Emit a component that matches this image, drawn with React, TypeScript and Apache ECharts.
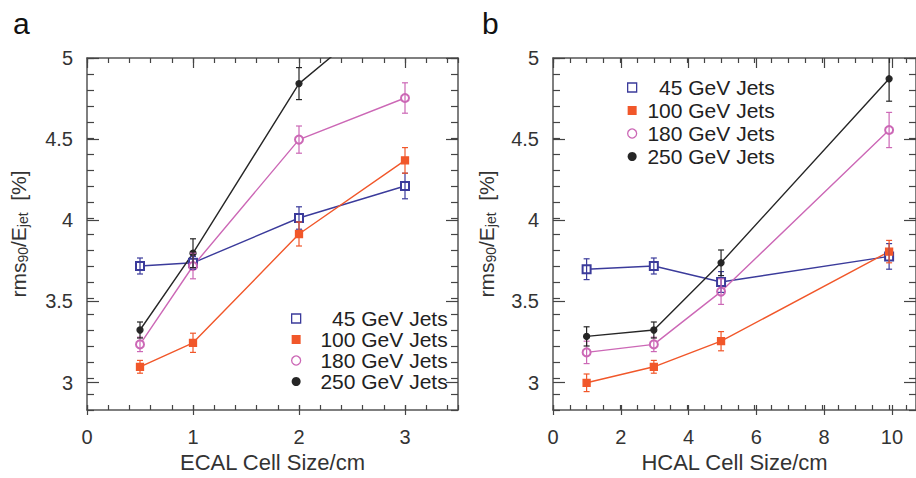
import React, { useEffect, useRef } from 'react';
import * as echarts from 'echarts';

// ---------- data ----------
const seriesNames = ['45 GeV Jets', '100 GeV Jets', '180 GeV Jets', '250 GeV Jets'];

const ecalSizes = [0.5, 1, 2, 3];
const ecal45 = [3.70, 3.72, 4.00, 4.20];
const ecal45Err = [0.05, 0.04, 0.07, 0.08];
const ecal100 = [3.07, 3.22, 3.90, 4.36];
const ecal100Err = [0.04, 0.06, 0.075, 0.08];
const ecal180 = [3.21, 3.70, 4.49, 4.75];
const ecal180Err = [0.045, 0.08, 0.085, 0.095];
const ecal250 = [3.30, 3.78, 4.84, 5.39];
const ecal250Err = [0.05, 0.09, 0.10, 0.12];

const hcalSizes = [1, 3, 5, 10];
const hcal45 = [3.68, 3.70, 3.60, 3.76];
const hcal45Err = [0.065, 0.05, 0.065, 0.08];
const hcal100 = [2.97, 3.07, 3.23, 3.79];
const hcal100Err = [0.055, 0.04, 0.06, 0.07];
const hcal180 = [3.16, 3.21, 3.54, 4.55];
const hcal180Err = [0.07, 0.045, 0.08, 0.11];
const hcal250 = [3.26, 3.30, 3.72, 4.87];
const hcal250Err = [0.06, 0.05, 0.08, 0.14];

const panelLabels = ['a', 'b'];
const xAxisNames = ['ECAL Cell Size/cm', 'HCAL Cell Size/cm'];
const yAxisName = '{a|rms}{s|90}{a|/E}{s|jet}{a|  [%]}';

// ---------- style ----------
const FONT = '"Liberation Sans", Arial, Helvetica, sans-serif';
const colors = ['#3b3b9b', '#f1572a', '#cc68b6', '#262626'];
const symbols = ['emptyRect', 'rect', 'emptyCircle', 'circle'];
const symbolSizes = [8, 7, 8, 6];
const AXIS_COLOR = '#555';
const LABEL_COLOR = '#333';

const Y_MIN = 2.8, Y_MAX = 5, Y_MINOR = 0.1, Y_MAJOR = 0.5, Y_MAJOR_MIN = 3;

const panels = [
  {
    left: 87, top: 58, right: 458, bottom: 415,
    xMin: 0, xMax: 3.5, xMinor: 0.2, xMajor: 1, xMajorMax: 3,
    sizes: ecalSizes,
    values: [ecal45, ecal100, ecal180, ecal250],
    errors: [ecal45Err, ecal100Err, ecal180Err, ecal250Err],
    legend: { left: 291, top: 308, itemGap: 0, textWidth: 142 },
    nameGap: 57,
  },
  {
    left: 553, top: 58, right: 919, bottom: 415,
    xMin: 0, xMax: 10.8, xMinor: 0.5, xMajor: 2, xMajorMax: 10,
    sizes: hcalSizes,
    values: [hcal45, hcal100, hcal180, hcal250],
    errors: [hcal45Err, hcal100Err, hcal180Err, hcal250Err],
    legend: { left: 627, top: 77, itemGap: 2, textWidth: 133 },
    nameGap: 55,
  },
];

function buildOption() {
  const grid: any[] = [];
  const xAxis: any[] = [];
  const yAxis: any[] = [];
  const series: any[] = [];
  const legend: any[] = [];
  const graphic: any[] = [];

  const axisLine = { show: true, onZero: false, lineStyle: { color: AXIS_COLOR, width: 1.5 } };
  const tickStyle = { color: '#444', width: 1.2 };
  const labelStyle = { color: LABEL_COLOR, fontSize: 20, fontFamily: FONT };

  panels.forEach((p, pi) => {
    const w = p.right - p.left;
    const h = p.bottom - p.top;
    const gMain = grid.length;
    grid.push({ left: p.left, top: p.top, width: w, height: h, containLabel: false });
    const gX = grid.length;
    grid.push({ left: p.left, top: p.top, width: w * (p.xMajorMax - p.xMin) / (p.xMax - p.xMin), height: h });
    const gY = grid.length;
    grid.push({ left: p.left, top: p.top, width: w, height: h * (Y_MAX - Y_MAJOR_MIN) / (Y_MAX - Y_MIN) });

    const xMainIdx = xAxis.length;
    xAxis.push({
      type: 'value', gridIndex: gMain, position: 'bottom', min: p.xMin, max: p.xMax, interval: p.xMinor,
      axisLine, splitLine: { show: false },
      axisTick: { show: true, inside: true, length: 5, lineStyle: tickStyle },
      axisLabel: { show: false },
      name: xAxisNames[pi], nameLocation: 'middle', nameGap: 41,
      nameTextStyle: { color: LABEL_COLOR, fontSize: 22, fontFamily: FONT },
    });
    xAxis.push({
      type: 'value', gridIndex: gMain, position: 'top', min: p.xMin, max: p.xMax, interval: p.xMinor,
      axisLine, splitLine: { show: false },
      axisTick: { show: true, inside: true, length: 5, lineStyle: tickStyle },
      axisLabel: { show: false },
    });
    const yMainIdx = yAxis.length;
    yAxis.push({
      type: 'value', gridIndex: gMain, position: 'left', min: Y_MIN, max: Y_MAX, interval: Y_MINOR,
      axisLine, splitLine: { show: false },
      axisTick: { show: true, inside: true, length: 7, lineStyle: tickStyle },
      axisLabel: { show: false },
      name: yAxisName, nameLocation: 'middle', nameGap: p.nameGap,
      nameTextStyle: {
        color: LABEL_COLOR, fontSize: 21, fontFamily: FONT,
        rich: {
          a: { color: LABEL_COLOR, fontSize: 21, fontFamily: FONT, lineHeight: 24 },
          s: { color: LABEL_COLOR, fontSize: 14, fontFamily: FONT, verticalAlign: 'bottom', lineHeight: 10 },
        },
      },
    });
    yAxis.push({
      type: 'value', gridIndex: gMain, position: 'right', min: Y_MIN, max: Y_MAX, interval: Y_MINOR,
      axisLine, splitLine: { show: false },
      axisTick: { show: true, inside: true, length: 7, lineStyle: tickStyle },
      axisLabel: { show: false },
    });

    xAxis.push({
      type: 'value', gridIndex: gX, position: 'bottom', min: p.xMin, max: p.xMajorMax, interval: p.xMajor,
      axisLine: { show: false }, splitLine: { show: false },
      axisTick: { show: true, inside: true, length: 10, lineStyle: tickStyle },
      axisLabel: { show: true, margin: 12, ...labelStyle },
    });
    xAxis.push({
      type: 'value', gridIndex: gX, position: 'top', min: p.xMin, max: p.xMajorMax, interval: p.xMajor,
      axisLine: { show: false }, splitLine: { show: false },
      axisTick: { show: true, inside: true, length: 10, lineStyle: tickStyle },
      axisLabel: { show: false },
    });
    yAxis.push({ type: 'value', gridIndex: gX, show: false, min: Y_MIN, max: Y_MAX });

    xAxis.push({ type: 'value', gridIndex: gY, show: false, min: p.xMin, max: p.xMax });
    yAxis.push({
      type: 'value', gridIndex: gY, position: 'left', min: Y_MAJOR_MIN, max: Y_MAX, interval: Y_MAJOR,
      axisLine: { show: false }, splitLine: { show: false },
      axisTick: { show: true, inside: true, length: 12, lineStyle: tickStyle },
      axisLabel: { show: true, margin: 14, ...labelStyle },
    });
    yAxis.push({
      type: 'value', gridIndex: gY, position: 'right', min: Y_MAJOR_MIN, max: Y_MAX, interval: Y_MAJOR,
      axisLine: { show: false }, splitLine: { show: false },
      axisTick: { show: true, inside: true, length: 12, lineStyle: tickStyle },
      axisLabel: { show: false },
    });

    seriesNames.forEach((name, si) => {
      const vals = p.values[si];
      const errs = p.errors[si];
      const color = colors[si];
      series.push({
        type: 'line', name, xAxisIndex: xMainIdx, yAxisIndex: yMainIdx,
        data: p.sizes.map((x, i) => [x, vals[i]]),
        symbol: symbols[si], symbolSize: symbolSizes[si], showSymbol: true,
        clip: true, z: 3,
        lineStyle: { color, width: 1.4 },
        itemStyle: { color, borderColor: color, borderWidth: 1.3 },
      });
      series.push({
        type: 'custom', name, xAxisIndex: xMainIdx, yAxisIndex: yMainIdx,
        data: p.sizes.map((x, i) => [x, vals[i], errs[i]]),
        encode: { x: 0, y: 1 }, clip: true, z: 4, silent: true,
        renderItem: (params: any, api: any) => {
          const x = api.value(0), y = api.value(1), e = api.value(2);
          const t = api.coord([x, y + e]);
          const b = api.coord([x, y - e]);
          const cap = 3;
          const style = { stroke: color, lineWidth: 1.2, fill: null };
          return {
            type: 'group',
            children: [
              { type: 'line', shape: { x1: t[0], y1: t[1], x2: b[0], y2: b[1] }, style },
              { type: 'line', shape: { x1: t[0] - cap, y1: t[1], x2: t[0] + cap, y2: t[1] }, style },
              { type: 'line', shape: { x1: b[0] - cap, y1: b[1], x2: b[0] + cap, y2: b[1] }, style },
            ],
          };
        },
      });
    });

    legend.push({
      orient: 'vertical', left: p.legend.left, top: p.legend.top, padding: 0,
      itemGap: p.legend.itemGap, itemWidth: 9, itemHeight: 9, selectedMode: false,
      data: seriesNames.map((name, si) => {
        const open = si === 0 || si === 2;
        const icon = si < 2 ? 'rect' : 'circle';
        const size = si === 3 ? 7 : 8;
        return {
          name, icon,
          itemStyle: open
            ? { color: '#fff', borderColor: colors[si], borderWidth: 1.3 }
            : { color: colors[si], borderColor: colors[si], borderWidth: 0 },
          itemWidth: size, itemHeight: size,
        };
      }),
      formatter: (name: string) => `{t|${name}}`,
      textStyle: {
        rich: {
          t: {
            width: p.legend.textWidth, align: 'right', fontSize: 21, lineHeight: 21,
            color: '#222', fontFamily: FONT,
          },
        },
      },
    });

    graphic.push({
      type: 'text', left: pi === 0 ? 13 : 482, top: 8,
      style: { text: panelLabels[pi], fontSize: 30, fontFamily: FONT, fill: '#111' },
    });
  });

  return {
    animation: false,
    backgroundColor: '#fff',
    grid, xAxis, yAxis, series, legend, graphic,
  };
}

export default function App() {
  const ref = useRef<HTMLDivElement>(null);
  useEffect(() => {
    if (!ref.current) return;
    const chart = echarts.init(ref.current, undefined, { renderer: 'svg' });
    chart.setOption(buildOption() as any);
    return () => chart.dispose();
  }, []);
  return (
    <div
      ref={ref}
      style={{ position: 'absolute', left: 0, top: 0, width: 916, height: 478, background: '#fff' }}
    />
  );
}
